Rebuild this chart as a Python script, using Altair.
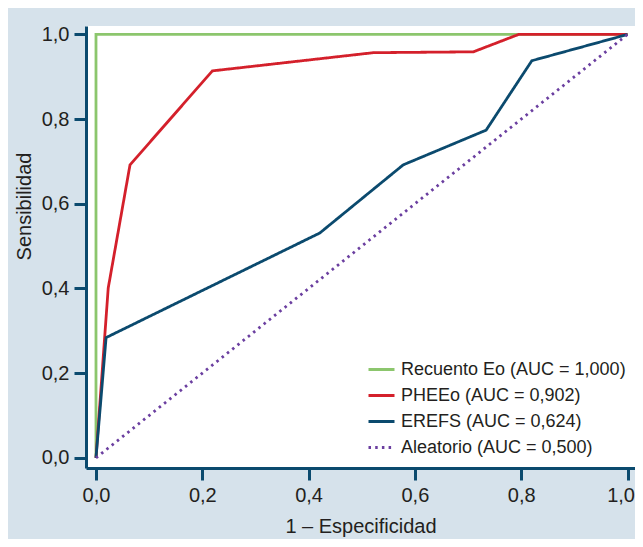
import altair as alt
import pandas as pd

series_names = [
    "Recuento Eo (AUC = 1,000)",
    "PHEEo (AUC = 0,902)",
    "EREFS (AUC = 0,624)",
    "Aleatorio (AUC = 0,500)",
]
series_colors = ["#8cc66d", "#d4202b", "#0b4a6e", "#6b3fa0"]

recuento_x = [0.0, 0.0, 1.0]
recuento_y = [0.0, 1.0, 1.0]
pheeo_x = [0.0, 0.023, 0.064, 0.219, 0.522, 0.71, 0.795, 1.0]
pheeo_y = [0.0, 0.401, 0.692, 0.914, 0.957, 0.959, 1.0, 1.0]
erefs_x = [0.0, 0.019, 0.421, 0.578, 0.734, 0.82, 1.0]
erefs_y = [0.0, 0.284, 0.531, 0.692, 0.774, 0.938, 1.0]
random_x = [0.0, 1.0]
random_y = [0.0, 1.0]

tick_values = [0.0, 0.2, 0.4, 0.6, 0.8, 1.0]

rows = []
for si, (name, xs, ys) in enumerate(zip(
        series_names,
        [recuento_x, pheeo_x, erefs_x, random_x],
        [recuento_y, pheeo_y, erefs_y, random_y])):
    for i, (x, y) in enumerate(zip(xs, ys)):
        rows.append({"serie": name, "x": x, "y": y, "i": i, "s": si})
df = pd.DataFrame(rows)

FONT = "Liberation Sans"
TEXT = "#231f20"
AXIS = "#0b4a6e"
BG = "#d6e2eb"

label_expr = "replace(format(datum.value, '.1f'), '.', ',')"

legend = alt.Legend(
    title=None,
    orient="none",
    legendX=281,
    legendY=329,
    symbolType="stroke",
    symbolSize=676,
    symbolStrokeWidth=3,
    labelFont=FONT,
    labelFontSize=18,
    labelColor=TEXT,
    labelOffset=5,
    rowPadding=2,
    padding=0,
    labelLimit=400,
)

chart = alt.Chart(df).mark_line(strokeWidth=2.8, clip=False).encode(
    x=alt.X(
        "x:Q",
        scale=alt.Scale(domain=[-0.0188, 1.0141], nice=False, zero=False),
        axis=alt.Axis(
            values=tick_values,
            labelExpr=label_expr,
            labelAlign={"condition": {"test": "datum.value >= 1", "value": "right"}, "value": "center"},
            labelOffset={"condition": {"test": "datum.value >= 1", "value": 7}, "value": 0},
            title="1 – Especificidad",
            grid=False,
            titleBaseline="alphabetic",
            titleY=64,
        ),
    ),
    y=alt.Y(
        "y:Q",
        scale=alt.Scale(domain=[-0.024, 1.020], nice=False, zero=False),
        axis=alt.Axis(
            values=tick_values,
            labelExpr=label_expr,
            title="Sensibilidad",
            grid=False,
            titleX=-52,
            titleY=180,
        ),
    ),
    color=alt.Color(
        "serie:N",
        scale=alt.Scale(domain=series_names, range=series_colors),
        legend=legend,
    ),
    strokeDash=alt.StrokeDash(
        "serie:N",
        scale=alt.Scale(domain=series_names, range=[[1, 0], [1, 0], [1, 0], [2.5, 4.2]]),
        legend=legend,
    ),
    order="i:O",
    detail="s:O",
).properties(
    width=549,
    height=442,
    padding={"left": 78, "top": 18, "right": 0, "bottom": 71},
    autosize=alt.AutoSizeParams(type="none"),
    background=BG,
).configure_view(
    fill="white",
    stroke=None,
).configure_axis(
    domainColor=AXIS,
    domainWidth=3,
    tickColor=AXIS,
    tickWidth=3,
    tickSize=12,
    labelFont=FONT,
    labelFontSize=20,
    labelColor=TEXT,
    labelPadding=5,
    titleFont=FONT,
    titleFontSize=20,
    titleFontWeight="normal",
    titleColor=TEXT,
    labelFlush=False,
    labelOverlap=False,
)

chart.save("out.html", embed_options={"renderer": "svg", "actions": False})
